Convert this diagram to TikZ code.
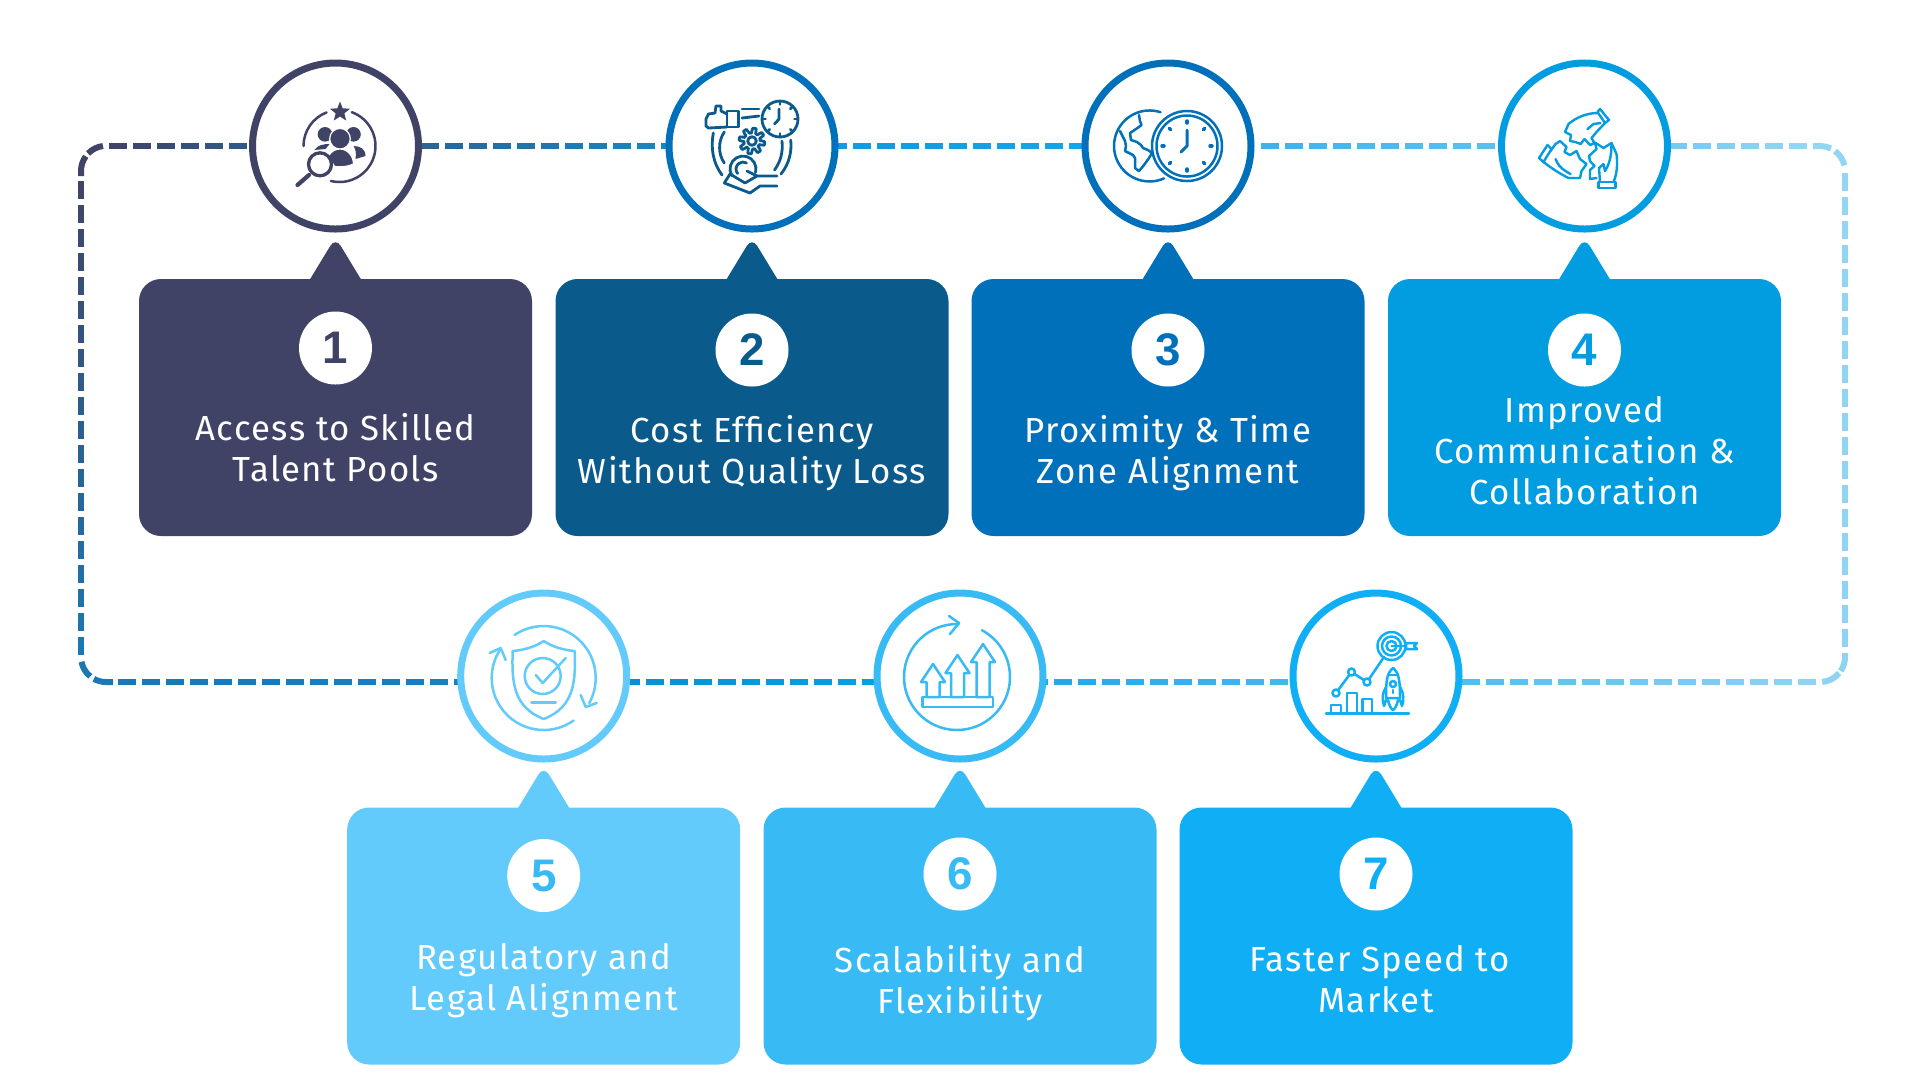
\documentclass[tikz,border=0pt]{standalone}
\usepackage{fontspec}
\usetikzlibrary{calc,shapes.geometric,backgrounds}
\newfontfamily\boxfont[LetterSpace=4]{Fira Sans}
\newfontfamily\numfont{Liberation Sans}
\definecolor{navy}{HTML}{404365}
\definecolor{deep}{HTML}{0A5A8C}
\definecolor{royal}{HTML}{0070BA}
\definecolor{ocean}{HTML}{029DE0}
\definecolor{pale}{HTML}{63CBFC}
\definecolor{sky}{HTML}{38BBF5}
\definecolor{bright}{HTML}{0FAEF5}
\tikzset{
  ringnode/.style={circle, draw=#1, fill=white, line width=0.7mm, minimum size=16.6mm, inner sep=0},
  cardnode/.style={rectangle, fill=#1, rounded corners=2.2mm, minimum width=39.3mm, minimum height=25.7mm, inner sep=0},
  numnode/.style={circle, fill=white, text=#1, minimum size=7.3mm, inner sep=0, font=\numfont\bfseries\fontsize{13pt}{13pt}\selectfont},
  textnode/.style={text=white, align=center, inner sep=0, font=\boxfont\fontsize{9.9pt}{11.65pt}\selectfont},
  linkdash/.style={line width=0.6mm},
  iconline/.style={line width=0.25mm, line cap=round, line join=round},
}
% dashes of 18 with gaps of 6: first dash at #3 after #1, #4 of them, colour from #5 to #6
\newcommand{\dashlink}[6]{
  \foreach \k [evaluate=\k as \st using {(#3+24*(\k-1))*0.1}, evaluate=\k as \en using {(#3+24*(\k-1)+18)*0.1}, evaluate=\k as \p using {100*(\k-1)/(#4-1)}] in {1,...,#4}
    \draw[linkdash, #6!\p!#5] ($(#1)!\st mm!(#2)$) -- ($(#1)!\en mm!(#2)$);
}
\newcommand{\cardtip}[2]{
  \fill[#2] ($(#1.north)+(-25.5,1)$) [rounded corners=1mm] -- ($(#1.north)+(0,-41)$) [sharp corners] -- ($(#1.north)+(25.5,1)$) -- cycle;
}
\begin{document}
\begin{tikzpicture}[x=0.1mm, y=-0.1mm]
\useasboundingbox (0,0) rectangle (1920,1080);

% circles on the dashed line
\node[ringnode=navy] (c1) at (335.5,146) {};
\node[ringnode=royal] (c2) at (752,146) {};
\node[ringnode=royal] (c3) at (1168,146) {};
\node[ringnode=ocean] (c4) at (1584.5,146) {};
\node[ringnode=pale] (c5) at (543.7,676) {};
\node[ringnode=sky] (c6) at (960,676) {};
\node[ringnode=bright] (c7) at (1376,676) {};

% cards
\node[cardnode=navy] (b1) at (335.5,407.5) {};
\node[cardnode=deep] (b2) at (752,407.5) {};
\node[cardnode=royal] (b3) at (1168,407.5) {};
\node[cardnode=ocean] (b4) at (1584.5,407.5) {};
\node[cardnode=pale] (b5) at (543.7,936) {};
\node[cardnode=sky] (b6) at (960,936) {};
\node[cardnode=bright] (b7) at (1376,936) {};
\cardtip{b1}{navy}
\cardtip{b2}{deep}
\cardtip{b3}{royal}
\cardtip{b4}{ocean}
\cardtip{b5}{pale}
\cardtip{b6}{sky}
\cardtip{b7}{bright}

% numbers
\node[numnode=navy] (n1) at (335.5,348) {1};
\node[numnode=deep] (n2) at (752,350) {2};
\node[numnode=royal] (n3) at (1168,350) {3};
\node[numnode=ocean] (n4) at (1584.5,350) {4};
\node[numnode=sky] (n5) at (543.7,875.5) {5};
\node[numnode=sky] (n6) at (960,874) {6};
\node[numnode=bright] (n7) at (1376,874) {7};

% labels
\node[textnode] (t1) at (335.5,447.8) {Access to Skilled\\Talent Pools};
\node[textnode] (t2) at (752,453.4) {Cost Efficiency\\Without Quality Loss};
\node[textnode] (t3) at (1168,453.4) {Proximity \& Time\\Zone Alignment};
\node[textnode] (t4) at (1584.5,451) {Improved\\Communication \&\\Collaboration};
\node[textnode] (t5) at (543.7,980.4) {Regulatory and\\Legal Alignment};
\node[textnode] (t6) at (960,983) {Scalability and\\Flexibility};
\node[textnode] (t7) at (1376,979.3) {\hspace*{0.7mm}Faster Speed to\\Market};

% dashed loop
\coordinate (tl) at (106,146);
\coordinate (tr) at (1820,146);
\coordinate (rt) at (1845,171);
\coordinate (rb) at (1845,657);
\coordinate (br) at (1820,682);
\coordinate (bl) at (106,682);
\coordinate (lb) at (81,657);
\coordinate (lt) at (81,171);
\coordinate (c5w) at ($(c5.west)+(0,6)$);
\coordinate (c5e) at ($(c5.east)+(0,6)$);
\coordinate (c6w) at ($(c6.west)+(0,6)$);
\coordinate (c6e) at ($(c6.east)+(0,6)$);
\coordinate (c7w) at ($(c7.west)+(0,6)$);
\coordinate (c7e) at ($(c7.east)+(0,6)$);
\definecolor{lka}{HTML}{404468}
\definecolor{lkb}{HTML}{2F5A85}
\definecolor{lkc}{HTML}{2A6596}
\definecolor{lkd}{HTML}{1A86BF}
\definecolor{lke}{HTML}{0F9BDE}
\definecolor{lkf}{HTML}{15A5E5}
\definecolor{lkg}{HTML}{3DB3EA}
\definecolor{lkh}{HTML}{5CC0EE}
\definecolor{lki}{HTML}{78CBF0}
\definecolor{lkj}{HTML}{93D5F2}
\definecolor{lkk}{HTML}{8FD3F2}
\definecolor{lkl}{HTML}{55BDEC}
\definecolor{lkm}{HTML}{45B6E9}
\definecolor{lkn}{HTML}{1FA8E5}
\definecolor{lko}{HTML}{05A0E0}
\definecolor{lkp}{HTML}{0A90D2}
\definecolor{lkq}{HTML}{1880BB}
\definecolor{lkr}{HTML}{1A78B2}
\begin{scope}[on background layer]
\dashlink{tl}{c1.west}{3.3}{6}{lka}{lkb}
\dashlink{c1.east}{c2.west}{-0.7}{11}{lkc}{lkd}
\dashlink{c2.east}{c3.west}{-9.2}{11}{lke}{lkf}
\dashlink{c3.east}{c4.west}{6.8}{10}{lkg}{lkh}
\dashlink{c4.east}{tr}{-1.7}{6}{lki}{lkj}
\dashlink{rt}{rb}{1.7}{20}{lkj}{lkk}
\dashlink{c7e}{br}{-0.4}{15}{lkl}{lkk}
\dashlink{c6e}{c7w}{-16.4}{11}{lkn}{lkm}
\dashlink{c5e}{c6w}{-7.9}{11}{lkp}{lko}
\dashlink{bl}{c5w}{12.1}{15}{lkr}{lkq}
\dashlink{lb}{lt}{2}{20}{lkr}{lka}
\end{scope}
\draw[linkdash, lka] ($(tl)+(-3,0)$) arc[start angle=263, end angle=224, radius=25];
\draw[linkdash, lka] ($(lt)+(0,5)$) -- (lt) arc[start angle=180, end angle=216, radius=25];
\draw[linkdash, lkj] ($(tr)+(-7,0)$) -- (tr) arc[start angle=270, end angle=296, radius=25];
\draw[linkdash, lkj] ($(rt)+(-25,0)+(307:25)$) arc[start angle=307, end angle=347, radius=25];
\draw[linkdash, lkk] ($(rb)+(0,-4)$) -- (rb) arc[start angle=0, end angle=34, radius=25];
\draw[linkdash, lkk] ($(br)+(0,-25)+(85:25)$) arc[start angle=85, end angle=40, radius=25];
\draw[linkdash, lkr] ($(bl)+(7,0)$) -- (bl) arc[start angle=90, end angle=119, radius=25];
\draw[linkdash, lkr] ($(lb)+(25,0)+(169:25)$) arc[start angle=169, end angle=129, radius=25];

% icon 1: people under a magnifier
\begin{scope}[shift={(c1)}, navy, iconline]
\node[star, star points=5, star point ratio=2.3, fill=navy, inner sep=0, minimum size=2.1mm] (star1) at (4.5,-34) {};
\draw (4,0) ++(180:36) arc[start angle=180, end angle=249, radius=36];
\draw (4,0) ++(290:36) arc[start angle=290, end angle=464, radius=36];
\fill (-10.5,-11.7) circle (7.3);
\fill (18,-11.7) circle (7.3);
\fill (18,0) .. controls (25,0) and (30,3) .. (30,10) -- (20,13) .. controls (21,7) and (20,3) .. (18,0) -- cycle;
\fill (-21,4) .. controls (-18,-1) and (-12,-2) .. (-6,-2) -- (-10,3) -- cycle;
\draw[fill=navy, draw=white, line width=0.12mm] (4.5,-7.3) circle (10.3);
\draw[fill=navy, draw=white, line width=0.12mm] (-7,10) .. controls (-4,5) and (0,3) .. (4.5,3) .. controls (12,3) and (18,10) .. (18,18) .. controls (12,21) and (5,21) .. (-1,20.5) -- cycle;
\draw[fill=white, line width=0.33mm] (-15.5,18.3) circle (11.5);
\draw[line width=0.42mm] (-26.5,29) -- (-38,39);
\end{scope}

% icon 2: thumb, clock, gear, coin
\begin{scope}[shift={(c2)}, deep, iconline, line width=0.28mm]
\draw (-25,-35) rectangle (-13.5,-19);
\draw (-25,-32) -- (-31,-35) -- (-31,-40) -- (-36,-40) -- (-37,-33) -- (-43.5,-32) -- (-46,-27) -- (-46,-20) -- (-43.5,-18) -- (-25,-19);
\draw (-10,-37) -- (7,-37);
\draw (-10,-28) -- (7,-30);
\draw (28,-27) circle (18);
\foreach \a in {0,45,...,315} \draw (28,-27) ++(\a:14.5) -- ++(\a:2);
\draw (27,-37) -- (27,-27) -- (22.5,-22);
\draw[shift={(0,-5)}] plot[domain=0:360, samples=97] ({(10.5+2.4*max(-1,min(1,2*sin(8*\x))))*cos(\x)}, {(10.5+2.4*max(-1,min(1,2*sin(8*\x))))*sin(\x)}) -- cycle;
\draw (0,-5) circle (4.3);
\draw (-38.7,-13) .. controls (-41.5,2) and (-39,17) .. (-30,29);
\draw (-27.7,-14) .. controls (-34,-5) and (-34,8) .. (-27.7,17);
\draw (38.7,-6) .. controls (40,6) and (37,18) .. (29,28);
\draw (30,-5) .. controls (31,6) and (29,15) .. (22.5,24);
\draw (-9,23) ++(150:13) arc[start angle=150, end angle=375, radius=13];
\draw (-9,23) ++(140:7) arc[start angle=140, end angle=300, radius=7];
\draw (-27.7,37) -- (-2,47) -- (8,40) -- (25,40);
\draw (-27.7,37) -- (-22,28) -- (-7,37) -- (5,30) -- (25,30);
\draw (-5,25) -- (5,30);
\end{scope}

% icon 3: globe and clock
\begin{scope}[shift={(c3)}, royal, iconline]
\draw (-7.5,-33.8) arc[start angle=288, end angle=66, radius=35.5];
\draw (-29,-31) -- (-28,-25) -- (-26.5,-21) -- (-32,-17) -- (-38,-13) -- (-37,-6) -- (-31,-4) -- (-27,-1) -- (-25,2) -- (-20,4) -- (-16,7) -- (-19,12) -- (-24,19) -- (-29,25) -- (-33,22) -- (-33,12) -- (-35,9) -- (-43,5) -- (-42,0) -- (-43,-5) -- (-48,-15);
\draw[fill=white] (19,0) circle (35);
\draw (19,0) circle (30.5);
\foreach \a in {0,45,...,315} \draw[line width=0.35mm] (19,0) ++(\a:23) -- ++(\a:2);
\draw[line width=0.3mm] (19,-16) -- (19,0) -- (13,6);
\end{scope}

% icon 4: three hands with puzzle pieces
\begin{scope}[shift={(c4)}, ocean, iconline, line width=0.24mm]
\draw (15.5,-37) -- (24.5,-26) -- (20.5,-23) -- (13,-34) -- cycle;
\draw (13,-33) .. controls (3,-33) and (-8,-29) .. (-16,-22) -- (-19.5,-14) -- (-13.5,-11) -- (-14.5,-5) -- (-9,-4) -- (-4,-2) -- (0,-7) -- (5.5,-1) -- (10,-3) -- (7,-8) -- (12,-14) -- (20.5,-23);
\draw (3,-17) -- (9,-22) -- (16,-23);
\draw (-45.5,12) -- (-37,-1) -- (-33,3) -- (-41,16) -- cycle;
\draw (-34,5) -- (-29,-2) -- (-24.5,-5) -- (-18,1) -- (-20,6) -- (-14.5,9) -- (-8,5) -- (-4.5,13) -- (2,18) -- (-3,25) -- (-4.5,32) -- (-16,32) .. controls (-24,28) and (-32,23) .. (-41,16);
\draw (-29,13) .. controls (-27,18) and (-24,22) .. (-19,25) -- (-14,28);
\draw (4.5,10) -- (12,3) -- (10.5,-3.5) -- (19,2) -- (27,-3) -- (32,8) .. controls (33,16) and (33,27) .. (29,36);
\draw (14,36) rectangle (31,42);
\draw (15.5,36) -- (14.5,22) -- (19,18) -- (20.5,25) .. controls (25,18) and (27,10) .. (27,-3);
\draw (4.5,10) -- (5.5,15) -- (10,20) -- (5.5,24) -- (5.5,33) -- (12,32);
\end{scope}

% icon 5: shield with a check mark
\begin{scope}[shift={(c5)}, pale, iconline]
\draw (0,-35) .. controls (-9,-29) and (-20,-26) .. (-31,-25) .. controls (-32,5) and (-31,31) .. (0,43) .. controls (31,31) and (32,5) .. (31,-25) .. controls (20,-26) and (9,-29) .. (0,-35) -- cycle;
\draw (-1,0) circle (18);
\draw (-8,-1) -- (-1,7) -- (22,-18);
\draw[line width=0.3mm] (-12,26) -- (12,26);
\draw (0,2) ++(236:52) arc[start angle=236, end angle=389, radius=52];
\draw (37,19) -- (42,31) -- (53,27);
\draw (0,2) ++(55:52) arc[start angle=55, end angle=214, radius=52];
\draw (-54,-23) -- (-43,-28) -- (-38,-16);
\end{scope}

% icon 6: arrows going up inside a turning arrow
\begin{scope}[shift={(c6)}, sky, iconline]
\draw (-3,1) ++(272:53) arc[start angle=272, end angle=-62, radius=53];
\draw (-11,-60) -- (-1,-53) -- (-10,-42);
\draw (-37.5,21) rectangle (33,31);
\foreach \ax/\ay in {-27/-12,-2.5/-21,23/-32}
  \draw (\ax,\ay) -- ++(12,18) -- ++(-5.5,0) -- ({\ax+6.5},21) -- ({\ax-6.5},21) -- ({\ax-6.5},{\ay+18}) -- ++(-5.5,0) -- cycle;
\end{scope}

% icon 7: chart, target and rocket
\begin{scope}[shift={(c7)}, bright, iconline]
\draw (15.5,-30) circle (14);
\draw (15.5,-30) circle (9.5);
\draw (15.5,-30) circle (5);
\draw (15.5,-30) -- (30,-30);
\draw (30,-33) -- (41,-33) -- (38,-30) -- (41,-27) -- (30,-27) -- cycle;
\draw (-40,17) -- (-24.5,-4) -- (-9,6) -- (8,-19);
\draw[fill=white] (-40,17) circle (3.5);
\draw[fill=white] (-24.5,-4) circle (3.5);
\draw[fill=white] (-9,6) circle (3.5);
\draw (-45,37.7) -- (-45,29) -- (-35,29) -- (-35,37.7);
\draw (-29,37.7) -- (-29,17) -- (-19,17) -- (-19,37.7);
\draw (-13.5,37.7) -- (-13.5,23) -- (-4,23) -- (-4,37.7);
\draw (-50,37.7) -- (33,37.7);
\draw (17,-8) .. controls (23,-3) and (24,4) .. (24,22) -- (10,22) .. controls (10,4) and (11,-3) .. (17,-8) -- cycle;
\draw (12,-1) -- (22,-1);
\draw (17,8) circle (3);
\draw (17,14) -- (17,17);
\draw (10,11) .. controls (6,17) and (6,24) .. (8,30) -- (10,24);
\draw (24,11) .. controls (28,17) and (28,24) .. (26,30) -- (24,24);
\draw (12,24) .. controls (13,29) and (15,33) .. (17,34) .. controls (19,33) and (21,29) .. (22,24);
\end{scope}
\end{tikzpicture}
\end{document}
